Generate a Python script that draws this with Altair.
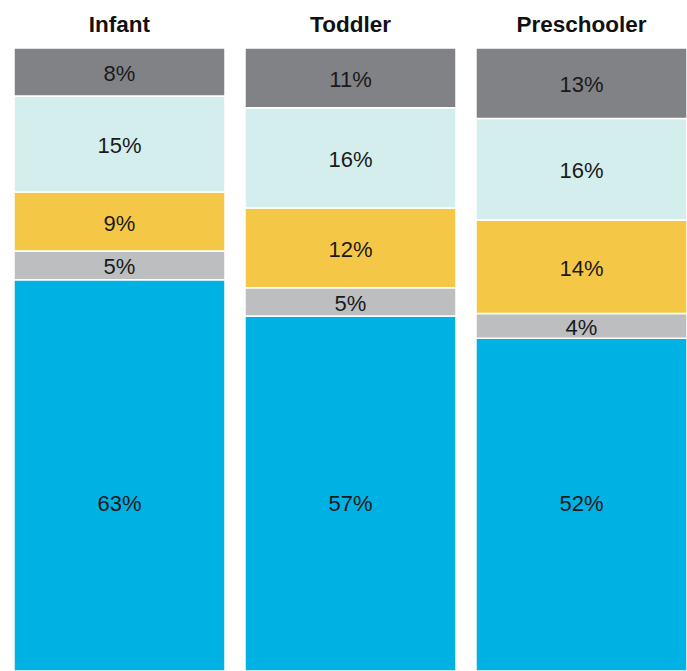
import altair as alt
import pandas as pd

categories = ["Infant", "Toddler", "Preschooler"]
series = ["s1", "s2", "s3", "s4", "s5"]  # bottom to top
colors = ["#00B2E3", "#BDBEC0", "#F4C846", "#D4EDED", "#818286"]

# segment shares (bottom to top)
infant = [62.8, 4.6, 9.5, 15.4, 7.7]
toddler = [57.0, 4.5, 12.8, 16.1, 9.6]
preschooler = [53.4, 4.0, 15.0, 16.3, 11.3]

# printed labels (bottom to top)
infant_labels = ["63%", "5%", "9%", "15%", "8%"]
toddler_labels = ["57%", "5%", "12%", "16%", "11%"]
preschooler_labels = ["52%", "4%", "14%", "16%", "13%"]

rows = []
for cat, vals, labs in [("Infant", infant, infant_labels),
                        ("Toddler", toddler, toddler_labels),
                        ("Preschooler", preschooler, preschooler_labels)]:
    for i, (s, v, l) in enumerate(zip(series, vals, labs)):
        rows.append({"cat": cat, "series": s, "order": i, "value": v, "label": l})
df = pd.DataFrame(rows)

base = alt.Chart(df).transform_stack(
    stack="value", groupby=["cat"], as_=["y0", "y1"],
    sort=[alt.SortField("order", order="ascending")], offset="normalize"
).transform_calculate(
    # bottom-segment labels sit at a common height in the original
    mid="datum.order == 0 ? 0.271 : (datum.y0 + datum.y1) / 2"
)

x_enc = alt.X("cat:N", sort=categories,
              scale=alt.Scale(paddingInner=0.0866, paddingOuter=0),
              axis=alt.Axis(orient="top", title=None, domain=False, ticks=False,
                            labelAngle=0, labelFontSize=22.5, labelFontWeight="bold",
                            labelFont="Liberation Sans", labelColor="#111111",
                            labelBaseline="alphabetic", labelPadding=17))
y_scale = alt.Scale(domain=[0, 1], nice=False, zero=True)

bars = base.mark_rect(stroke="white", strokeWidth=1.5).encode(
    x=x_enc,
    y=alt.Y("y0:Q", scale=y_scale, axis=None),
    y2="y1:Q",
    color=alt.Color("series:N", scale=alt.Scale(domain=series, range=colors), legend=None),
)

labels = base.mark_text(fontSize=22, font="Liberation Sans", color="#1a1a1a",
                        baseline="middle", align="center", dy=2).encode(
    x=alt.X("cat:N", sort=categories),
    y=alt.Y("mid:Q", scale=y_scale, axis=None),
    text="label:N",
)

chart = alt.layer(bars, labels).properties(
    width=673, height=623,
    padding={"left": 14, "top": 48, "right": 0, "bottom": 0},
    autosize=alt.AutoSizeParams(type="none"),
).configure_view(stroke=None)

chart.save("out.html", embed_options={"renderer": "svg", "actions": False})
